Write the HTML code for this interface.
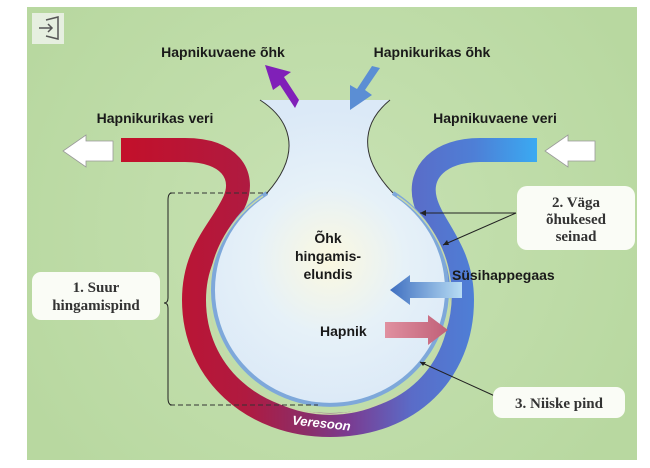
<!DOCTYPE html>
<html><head><meta charset="utf-8"><style>
html,body{margin:0;padding:0;background:#fff;width:650px;height:468px;overflow:hidden}
svg{display:block}
.s{font-family:"Liberation Sans",sans-serif;font-weight:bold;font-size:14px;fill:#1a1a1a}
.b{font-family:"Liberation Serif",serif;font-weight:bold;font-size:15px;fill:#333}
</style></head><body>
<svg width="650" height="468" viewBox="0 0 650 468">
<defs>
<linearGradient id="tube" x1="121" y1="0" x2="537" y2="0" gradientUnits="userSpaceOnUse">
<stop offset="0" stop-color="#c3102a"/><stop offset="0.3" stop-color="#b01a40"/>
<stop offset="0.45" stop-color="#8a2e6a"/><stop offset="0.55" stop-color="#7a3c92"/>
<stop offset="0.7" stop-color="#5a6cc8"/><stop offset="0.85" stop-color="#4e7fd6"/>
<stop offset="1" stop-color="#3aaaf2"/></linearGradient>
<radialGradient id="fl" cx="330" cy="260" r="150" gradientUnits="userSpaceOnUse">
<stop offset="0" stop-color="#fbf8e0"/><stop offset="0.5" stop-color="#e6f1f8"/><stop offset="1" stop-color="#dbe9f7"/></radialGradient>
<radialGradient id="bg" cx="330" cy="230" r="350" gradientUnits="userSpaceOnUse">
<stop offset="0" stop-color="#c8e2b4"/><stop offset="1" stop-color="#b8d8a0"/></radialGradient>
<linearGradient id="co2" x1="1" y1="0" x2="0" y2="0"><stop offset="0" stop-color="#b8ddf4"/><stop offset="1" stop-color="#3f6fc0"/></linearGradient>
<linearGradient id="o2" x1="0" y1="0" x2="1" y2="0"><stop offset="0" stop-color="#e090a0"/><stop offset="1" stop-color="#c06078"/></linearGradient>
</defs>
<rect x="27" y="7" width="610" height="453" fill="url(#bg)"/>
<rect x="32" y="13" width="32" height="31" fill="#e6efe0"/>
<path d="M39 28 H52 M48 24 L52 28 L48 32 M46 20 L58 17 V39 L46 36" stroke="#555" stroke-width="1.5" fill="none"/>
<!-- tube -->
<path d="M121,150 H185 C230,150 245,175 235,200 C222,230 194,250 194,300 C194,372 252,425 330,425 C410,425 462,372 462,300 C462,250 432,228 425,200 C418,172 440,150 480,150 H537" stroke="url(#tube)" stroke-width="24" fill="none"/>
<!-- flask -->
<path d="M260,100 H390 C368,118 352,150 393,193 A117,115 0 1 1 267,193 C305,150 288,118 260,100 Z" fill="url(#fl)"/>
<path d="M260,100 C288,118 305,150 267,193" stroke="#333" stroke-width="1" fill="none"/>
<path d="M390,100 C368,118 352,150 393,193" stroke="#333" stroke-width="1" fill="none"/>
<path d="M267,193 A117,115 0 1 0 393,193" stroke="#7ea8da" stroke-width="4" fill="none"/>
<path d="M263,196 A121,119 0 1 0 397,196" stroke="#c8d8a8" stroke-width="1.5" fill="none"/>
<!-- dashed and bracket -->
<path d="M170,193 H268 M170,405 H318" stroke="#333" stroke-dasharray="5,3" fill="none"/>
<path d="M172,193 Q168,193 168,200 V298 Q168,303 164,303 Q168,303 168,308 V398 Q168,405 172,405" stroke="#222" fill="none"/>
<!-- white arrows -->
<path d="M113,141 H86 V135 L63,151 L86,167 V161 H113 Z" fill="#fff" stroke="#999" stroke-width="0.8"/>
<path d="M595,141 H568 V135 L545,151 L568,167 V161 H595 Z" fill="#fff" stroke="#999" stroke-width="0.8"/>
<!-- air arrows -->
<path d="M295,108 L280,85 L273,90 L265,65 L291,72 L284,77 L299,100 Z" fill="#8020b8"/>
<path d="M380,68 L365,90 L372,95 L350,110 L350,85 L357,89 L372,66 Z" fill="#5b8ed4"/>
<!-- gas arrows -->
<path d="M462,282 H410 V275 L390,290 L410,305 V298 H462 Z" fill="url(#co2)"/>
<path d="M385,322 H428 V315 L448,330 L428,345 V338 H385 Z" fill="url(#o2)"/>
<!-- pointer lines -->
<path d="M516,213 L420,213 M516,213 L443,245 M497,397 L420,362" stroke="#222" stroke-width="1" fill="none"/>
<path d="M420,213 l6,-3 v6 z M443,245 l4,-5 l2,5 z M420,362 l6,0 l-3,4 z" fill="#222"/>
<!-- labels -->
<text class="s" x="223" y="57" text-anchor="middle" font-size="15">Hapnikuvaene õhk</text>
<text class="s" x="432" y="57" text-anchor="middle" font-size="15">Hapnikurikas õhk</text>
<text class="s" x="155" y="123" text-anchor="middle" font-size="15">Hapnikurikas veri</text>
<text class="s" x="495" y="123" text-anchor="middle" font-size="15">Hapnikuvaene veri</text>
<text class="s" x="328" y="243" text-anchor="middle" font-size="15">Õhk</text>
<text class="s" x="328" y="261" text-anchor="middle" font-size="15">hingamis-</text>
<text class="s" x="328" y="279" text-anchor="middle" font-size="15">elundis</text>
<text class="s" x="452" y="280" font-size="15">Süsihappegaas</text>
<text class="s" x="320" y="336" font-size="15">Hapnik</text>
<text font-family="Liberation Sans,sans-serif" font-weight="bold" font-style="italic" font-size="13" fill="#fff" x="292" y="428" transform="rotate(6 325 424)">Veresoon</text>
<rect x="32" y="272" width="128" height="48" rx="9" fill="#fafcf6"/>
<text class="b" x="96" y="292" text-anchor="middle">1. Suur</text>
<text class="b" x="96" y="310" text-anchor="middle">hingamispind</text>
<rect x="517" y="186" width="118" height="64" rx="10" fill="#fafcf6"/>
<text class="b" x="576" y="207" text-anchor="middle">2. Väga</text>
<text class="b" x="576" y="224" text-anchor="middle">õhukesed</text>
<text class="b" x="576" y="241" text-anchor="middle">seinad</text>
<rect x="493" y="387" width="132" height="31" rx="9" fill="#fafcf6"/>
<text class="b" x="559" y="408" text-anchor="middle">3. Niiske pind</text>
</svg>
</body></html>
